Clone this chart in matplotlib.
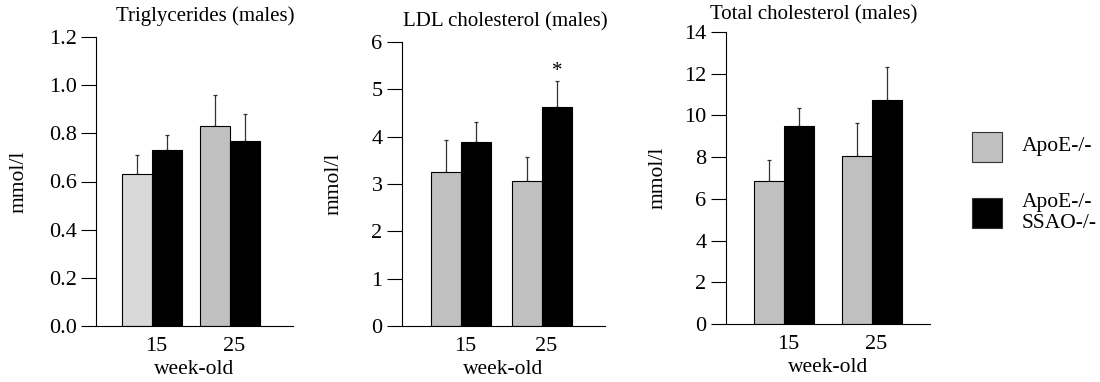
import matplotlib
matplotlib.use("Agg")
import matplotlib.pyplot as plt
import numpy as np

plt.rcParams['font.family'] = ['Liberation Serif', 'DejaVu Serif']

# data
weeks = ["15", "25"]
series_names = ["ApoE-/-", "ApoE-/-\nSSAO-/-"]

tg_apoe = [0.63, 0.83]
tg_apoe_err = [0.08, 0.13]
tg_ssao = [0.73, 0.77]
tg_ssao_err = [0.065, 0.11]

ldl_apoe = [3.25, 3.06]
ldl_apoe_err = [0.67, 0.52]
ldl_ssao = [3.88, 4.63]
ldl_ssao_err = [0.42, 0.54]

tc_apoe = [6.84, 8.04]
tc_apoe_err = [1.02, 1.58]
tc_ssao = [9.47, 10.72]
tc_ssao_err = [0.91, 1.58]

W, H = 1100, 382
fig = plt.figure(figsize=(11, 3.82), dpi=100)


def make_panel(rect, title, title_xy, vals1, err1, vals2, err2, ymax, yticks, ylabels,
               xlim, width, ylab_x, first_colors):
    # rect in pixels: left, bottom(px from top), right, top(px from top)
    l, b, r, t = rect
    ax = fig.add_axes([l / W, (H - b) / H, (r - l) / W, (b - t) / H])
    x = np.arange(len(weeks))
    ax.bar(x - width / 2, vals1, width, color=first_colors, edgecolor='black', linewidth=0.8, zorder=2)
    ax.bar(x + width / 2, vals2, width, color='black', edgecolor='black', linewidth=0.8, zorder=2)
    ax.errorbar(x - width / 2, vals1, yerr=[np.zeros(2), err1], fmt='none', ecolor='#333333',
                elinewidth=0.9, capsize=1.5, capthick=0.9, zorder=1)
    ax.errorbar(x + width / 2, vals2, yerr=[np.zeros(2), err2], fmt='none', ecolor='#333333',
                elinewidth=0.9, capsize=1.5, capthick=0.9, zorder=1)
    ax.set_xlim(*xlim)
    ax.set_ylim(0, ymax)
    ax.set_yticks(yticks)
    ax.set_yticklabels(ylabels, fontsize=16)
    ax.set_xticks(x + 0.05)
    ax.set_xticklabels(weeks, fontsize=16)
    ax.tick_params(axis='x', length=0, pad=8)
    ax.tick_params(axis='y', length=11, width=0.8, direction='out', pad=3)
    ax.spines['top'].set_visible(False)
    ax.spines['right'].set_visible(False)
    ax.spines['left'].set_linewidth(0.8)
    ax.spines['bottom'].set_linewidth(0.8)
    ax.set_xlabel("week-old", fontsize=15.5, labelpad=3)
    ax.set_ylabel("mmol/l", fontsize=15.5)
    ax.yaxis.set_label_coords(ylab_x, 0.5)
    fig.text(title_xy[0] / W, 1 - title_xy[1] / H, title, fontsize=15, ha='center', va='center')
    return ax


make_panel((96, 326, 293, 37), "Triglycerides (males)", (205, 16),
           tg_apoe, tg_apoe_err, tg_ssao, tg_ssao_err,
           1.2, [0, 0.2, 0.4, 0.6, 0.8, 1.0, 1.2],
           ["0.0", "0.2", "0.4", "0.6", "0.8", "1.0", "1.2"],
           (-0.72, 1.81), 0.385, -0.345, ['#d9d9d9', '#c0c0c0'])

ax2 = make_panel((402, 326, 605, 42), "LDL cholesterol (males)", (505, 22),
                 ldl_apoe, ldl_apoe_err, ldl_ssao, ldl_ssao_err,
                 6, [0, 1, 2, 3, 4, 5, 6], ["0", "1", "2", "3", "4", "5", "6"],
                 (-0.73, 1.78), 0.37, -0.29, ['#c0c0c0', '#c0c0c0'])
ax2.text(1 + 0.37 / 2, 5.38, "*", ha='center', va='center', fontsize=15)

make_panel((726, 324, 930, 32), "Total cholesterol (males)", (814, 15),
           tc_apoe, tc_apoe_err, tc_ssao, tc_ssao_err,
           14, [0, 2, 4, 6, 8, 10, 12, 14], ["0", "2", "4", "6", "8", "10", "12", "14"],
           (-0.66, 1.66), 0.34, -0.285, ['#c0c0c0', '#c0c0c0'])

# legend
leg_colors = ['#c0c0c0', 'black']
leg_y = [147, 213]
for name, c, yc in zip(series_names, leg_colors, leg_y):
    fig.patches.append(plt.Rectangle((972 / W, 1 - (yc + 15) / H), 30 / W, 30 / H,
                                     transform=fig.transFigure, facecolor=c,
                                     edgecolor='#333333', linewidth=0.8))
    fig.text(1022 / W, 1 - yc / H, name, fontsize=15.5, ha='left', va='center', linespacing=1.1)

fig.savefig("out.png", dpi=100, facecolor='white')
